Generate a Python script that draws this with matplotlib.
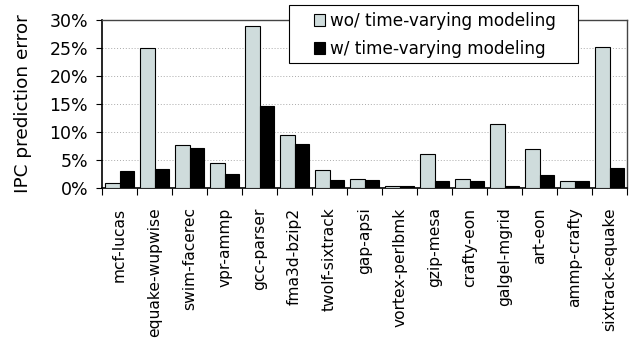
import matplotlib.pyplot as plt
import matplotlib.patches as mpatches
import numpy as np
from matplotlib.ticker import FixedLocator, PercentFormatter

pairs = ["mcf-lucas", "equake-wupwise", "swim-facerec", "vpr-ammp", "gcc-parser",
         "fma3d-bzip2", "twolf-sixtrack", "gap-apsi", "vortex-perlbmk", "gzip-mesa",
         "crafty-eon", "galgel-mgrid", "art-eon", "ammp-crafty", "sixtrack-equake"]
wo_tv = [0.9, 25.0, 7.7, 4.5, 28.9, 9.4, 3.3, 1.7, 0.3, 6.1, 1.7, 11.5, 7.0, 1.2, 25.2]
w_tv = [3.1, 3.4, 7.1, 2.5, 14.7, 7.8, 1.5, 1.5, 0.3, 1.3, 1.3, 0.35, 2.3, 1.3, 3.6]

W, H = 634, 345
plt.rcParams['font.family'] = ['DejaVu Sans']
fig = plt.figure(figsize=(W / 100, H / 100), dpi=100)
ax = fig.add_axes([0.161, 0.455, 0.828, 0.487])

x = np.arange(len(pairs))
bw = 0.42
ax.bar(x - bw / 2, wo_tv, bw, color='#cfdcdc', edgecolor='black', linewidth=0.8,
       label='wo/ time-varying modeling', zorder=3)
ax.bar(x + bw / 2, w_tv, bw, color='black', edgecolor='black', linewidth=0.8,
       label='w/ time-varying modeling', zorder=3)

ax.set_xlim(-0.5, len(pairs) - 0.5)
ax.set_ylim(0, 30)
ax.set_yticks(np.arange(0, 31, 5))
ax.yaxis.set_major_formatter(PercentFormatter(decimals=0))
ax.yaxis.grid(True, linestyle=(0, (1, 2)), color='#aaaaaa', linewidth=0.7, zorder=0)

ax.set_xticks(x)
ax.set_xticklabels(pairs, rotation=90, fontsize=11.2)
ax.xaxis.set_minor_locator(FixedLocator(np.arange(-0.5, len(pairs), 1)))
ax.tick_params(axis='x', which='major', length=0, pad=14)
ax.tick_params(axis='x', which='minor', length=5, width=0.8, direction='out')
ax.tick_params(axis='y', length=4, width=0.8, labelsize=12.5, pad=6)
ax.set_ylabel('IPC prediction error', fontsize=13.3, labelpad=13)

for s in ['left', 'bottom']:
    ax.spines[s].set_linewidth(1.2)
for s in ['top', 'right']:
    ax.spines[s].set_linewidth(1.0)
    ax.spines[s].set_color('#444444')

# legend box drawn separately so the inner padding can be wider than tall
fig.patches.append(mpatches.Rectangle((289 / W, 1 - 63 / H), 289 / W, 58 / H,
                                      transform=fig.transFigure, facecolor='white',
                                      edgecolor='black', linewidth=0.8, zorder=5))
leg = fig.legend(*ax.get_legend_handles_labels(), loc='upper left',
                 bbox_to_anchor=(314 / W, 1 - 12 / H), fontsize=12.2, frameon=False,
                 handlelength=0.65, handleheight=0.65, handletextpad=0.3,
                 borderpad=0, labelspacing=0.58, borderaxespad=0)
leg.set_zorder(6)

fig.savefig('out.png', dpi=100)
